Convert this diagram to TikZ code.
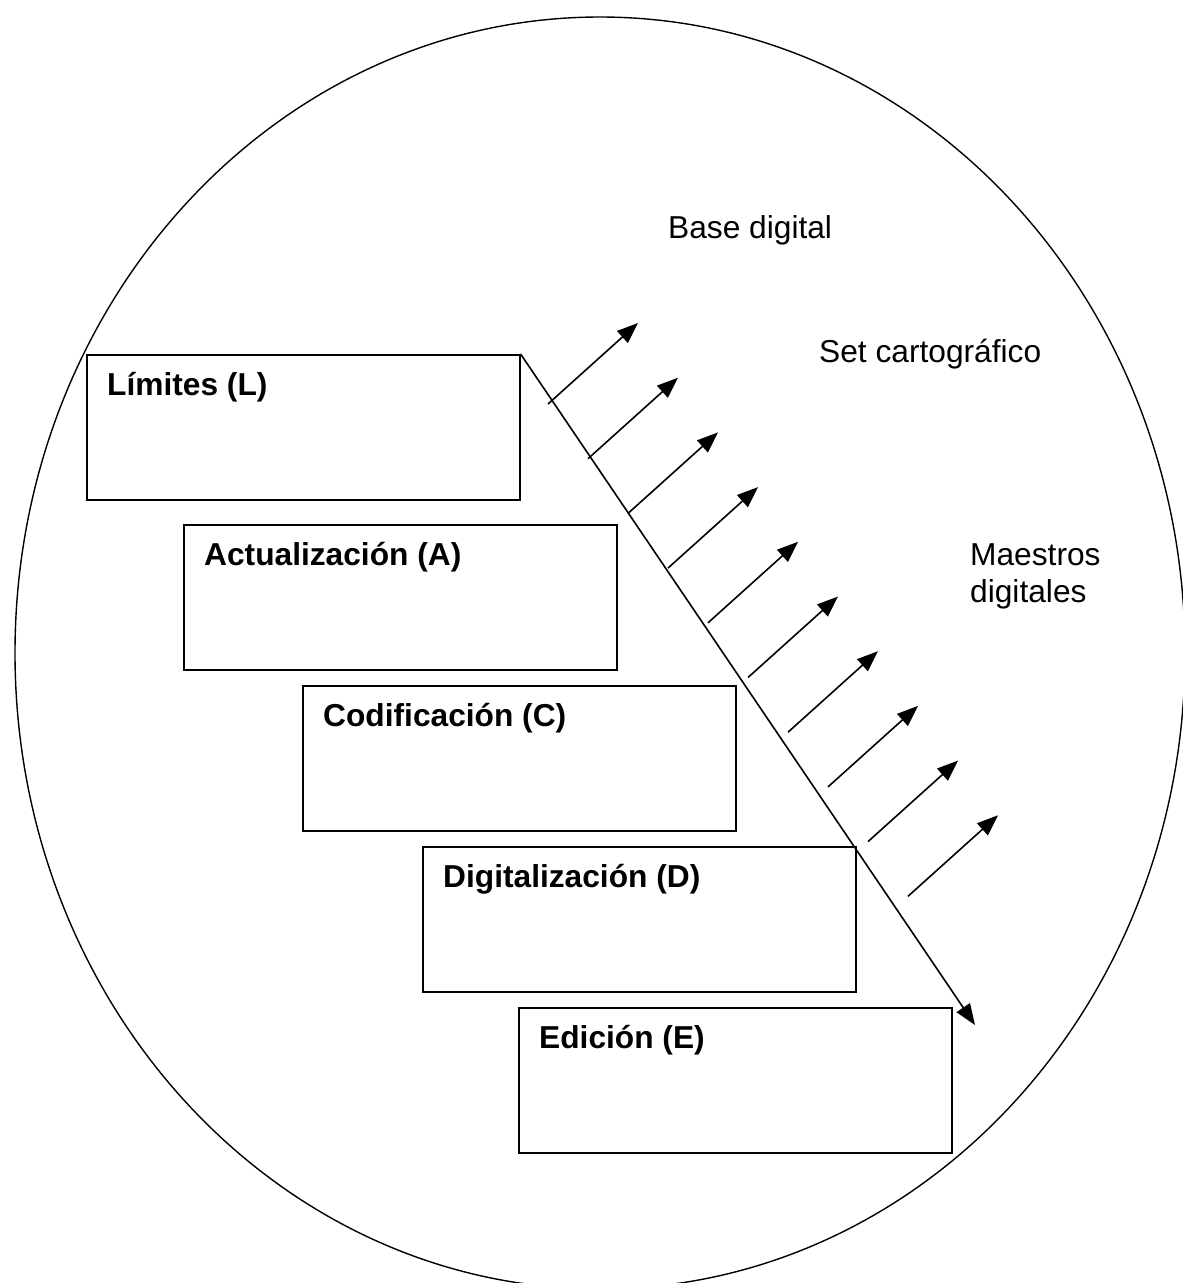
\documentclass[tikz,border=0pt]{standalone}
\usepackage{fontspec}
\setmainfont{Liberation Sans}
\usetikzlibrary{arrows.meta}

\newcommand*{\anchoCaja}{433pt}
\newcommand*{\altoCaja}{145pt}

\tikzset{
	caja/.style={draw, line width=1.6pt, minimum width=\anchoCaja, minimum height=\altoCaja, anchor=north west, inner sep=0pt},
	titulo/.style={anchor=base west, inner sep=0pt, font=\fontsize{31.7}{37}\selectfont\bfseries},
	rotulo/.style={anchor=base west, inner sep=0pt, align=left, font=\fontsize{31.7}{37}\selectfont},
	flecha/.style={line width=1.6pt, -{Triangle[length=21pt,width=16pt]}}
}

\begin{document}
\begin{tikzpicture}[x=1pt,y=-1pt]
	\useasboundingbox (0,0) rectangle (1183,1283);
	\clip (0,0) rectangle (1183,1283);

	% contorno
	\draw [line width=1.4pt] (600,653) ellipse [x radius=585, y radius=636];

	% etapas
	\node [caja] (lim) at (86,354) {};
	\node [caja] (act) at (183,524) {};
	\node [caja] (cod) at (302,685) {};
	\node [caja] (dig) at (422,846) {};
	\node [caja] (edi) at (518,1007) {};

	\node [titulo] (limT) at ([xshift=21pt,yshift=-41pt]lim.north west) {Límites (L)};
	\node [titulo] (actT) at ([xshift=21pt,yshift=-41pt]act.north west) {Actualización (A)};
	\node [titulo] (codT) at ([xshift=21pt,yshift=-41pt]cod.north west) {Codificación (C)};
	\node [titulo] (digT) at ([xshift=21pt,yshift=-41pt]dig.north west) {Digitalización (D)};
	\node [titulo] (ediT) at ([xshift=21pt,yshift=-41pt]edi.north west) {Edición (E)};

	% productos
	\node [rotulo] (base) at (668,238) {Base digital};
	\node [rotulo] (set) at (819,362) {Set cartográfico};
	\node [rotulo] (maes) at (970,602) {Maestros\\digitales};

	% flujo
	\coordinate (fin) at (975,1025);
	\draw [flecha] (lim.north east) -- (fin);
	\foreach \i in {0,...,9} {
		\coordinate (s\i) at ({548+40*\i},{404+54.7*\i});
		\coordinate (t\i) at ({638+40*\i},{323+54.7*\i});
		\draw [flecha] (s\i) -- (t\i);
	}

\end{tikzpicture}
\end{document}
